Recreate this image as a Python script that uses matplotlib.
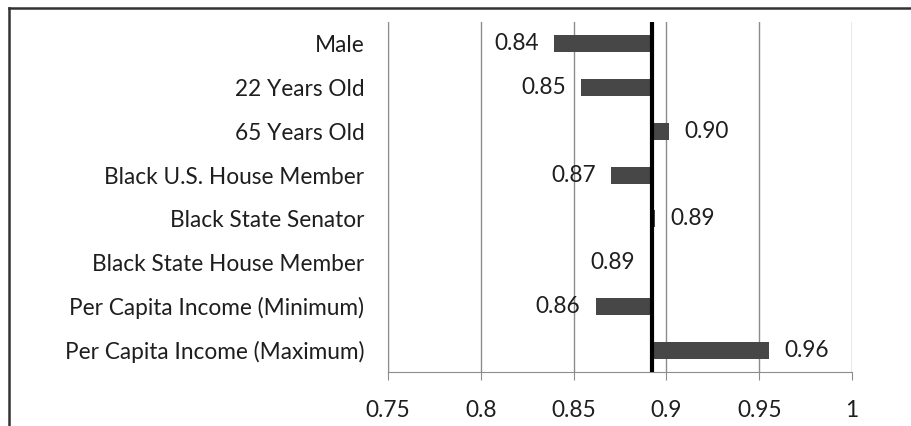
import matplotlib
matplotlib.use("Agg")
import matplotlib.pyplot as plt
from matplotlib.lines import Line2D

categories = [
    "Male",
    "22 Years Old",
    "65 Years Old",
    "Black U.S. House Member",
    "Black State Senator",
    "Black State House Member",
    "Per Capita Income (Minimum)",
    "Per Capita Income (Maximum)",
]
values = [0.8395, 0.8542, 0.9015, 0.8704, 0.8938, 0.8915, 0.8618, 0.9554]
baseline = 0.892
xticks = [0.75, 0.8, 0.85, 0.9, 0.95, 1.0]
xtick_labels = ["0.75", "0.8", "0.85", "0.9", "0.95", "1"]

plt.rcParams["font.family"] = ["Lato", "DejaVu Sans"]

W, H = 912, 426
fig = plt.figure(figsize=(W / 100, H / 100), dpi=100)
ax = fig.add_axes([388 / W, 1 - 372 / H, (852 - 388) / W, (372 - 22) / H])

y = list(range(len(categories)))
widths = [v - baseline for v in values]
ax.barh(y, widths, left=baseline, height=0.39, color="#474747", zorder=2)
ax.axvline(baseline, color="black", lw=3, zorder=3)

fs = 16.3
for yi, v in zip(y, values):
    if v < baseline:
        ax.annotate(f"{v:.2f}", (v, yi), xytext=(-11, 0), textcoords="offset points",
                    ha="right", va="center", fontsize=fs, color="#1e1e1e")
    else:
        ax.annotate(f"{v:.2f}", (v, yi), xytext=(11, 0), textcoords="offset points",
                    ha="left", va="center", fontsize=fs, color="#1e1e1e")

ax.set_xlim(0.75, 1.0)
ax.set_ylim(len(categories) - 0.5, -0.5)
ax.set_xticks(xticks)
ax.set_xticklabels(xtick_labels)
ax.set_yticks(y)
ax.set_yticklabels(categories)
ax.grid(axis="x", color="#8c8c8c", lw=1, zorder=1)

for side in ["top", "right"]:
    ax.spines[side].set_visible(False)
ax.spines["left"].set_color("#8c8c8c")
ax.spines["bottom"].set_color("#8c8c8c")
ax.tick_params(axis="x", length=6, color="#8c8c8c", pad=14, labelsize=fs, labelcolor="#1e1e1e")
ax.tick_params(axis="y", length=0, pad=17, labelsize=fs, labelcolor="#1e1e1e")

# outer frame (only top and left edges show in the reference)
fig.add_artist(Line2D([9 / W, 1], [1 - 8 / H, 1 - 8 / H], color="#333333", lw=1.8))
fig.add_artist(Line2D([9 / W, 9 / W], [0, 1 - 8 / H], color="#333333", lw=1.8))

fig.savefig("out.png", dpi=100)
